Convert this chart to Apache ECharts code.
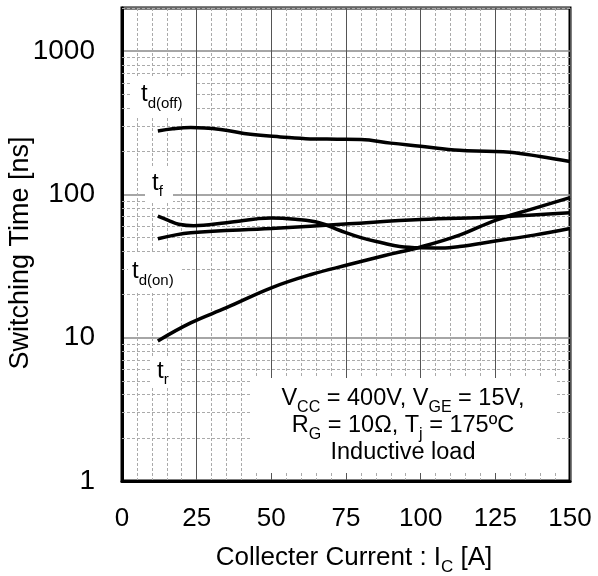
<!DOCTYPE html>
<html>
<head>
<meta charset="utf-8">
<script src="https://cdn.jsdelivr.net/npm/echarts@6/dist/echarts.min.js"></script>
<style>html,body{margin:0;padding:0;background:#fff}#c{width:598px;height:576px}</style>
</head>
<body>
<div id="c"></div>
<script>
// ---- data ----
const tdoffX = [12, 17, 23, 33, 43, 53, 63, 72, 80, 90, 100, 113, 122, 130, 140, 150];
const tdoffY = [277, 287, 293, 284, 263, 252, 244, 243, 242, 228, 217, 203, 200, 197, 184, 170];

const tfX = [12, 15.5, 19, 24, 35, 50, 58, 66, 73, 80, 87, 93, 100, 107, 113, 125, 138, 150];
const tfY = [70.5, 66, 62, 60.5, 63.5, 68.5, 67, 63.5, 56, 50, 46, 43.3, 42.4, 42.3, 43.3, 47.3, 52, 57.8];

const tdonX = [12, 23, 50, 76, 100, 125, 150];
const tdonY = [49, 54, 57.8, 62.4, 66.8, 69.6, 74.5];

const trX = [12, 23, 35, 50, 63, 76, 88, 100, 113, 125, 138, 150];
const trY = [9.5, 12.7, 16.2, 22.3, 27.5, 32.4, 37.5, 43, 52, 66, 80, 95];

const xMin = 0, xMax = 150, xInterval = 25, xMinorSplit = 5;
const yMin = 1, yMax = 2000;
const yMinorTicks = [2,3,4,5,6,7,8,9,20,30,40,50,60,70,80,90,200,300,400,500,600,700,800,900,2000];

const FAMILY = '"Liberation Sans", Arial, Helvetica, sans-serif';

function zip(xs, ys) { return xs.map((x, i) => [x, ys[i]]); }

// text measurement for subscript layout
const mctx = document.createElement('canvas').getContext('2d');
function measure(text, fs) { mctx.font = fs + 'px ' + FAMILY; return mctx.measureText(text).width; }

// parts: [[text, isSub], ...]; baseline-positioned text with lowered subscripts
function subText(x, baseline, parts, fsMain, fsSub, dy, align) {
  const widths = parts.map(p => measure(p[0], p[1] ? fsSub : fsMain));
  const total = widths.reduce((a, b) => a + b, 0);
  let cx = align === 'center' ? x - total / 2 : x;
  const els = [];
  parts.forEach((p, i) => {
    const fs = p[1] ? fsSub : fsMain;
    const bl = baseline + (p[1] ? dy : 0);
    els.push({
      type: 'text', z: 101, x: cx, y: bl - 0.3465 * fs, silent: true,
      style: {text: p[0], fontSize: fs, fontFamily: FAMILY, fill: '#000', align: 'left', verticalAlign: 'middle'}
    });
    cx += widths[i];
  });
  return els;
}

const chart = echarts.init(document.getElementById('c'), null, {renderer: 'canvas'});

const lineStyle = {color: '#000', width: 3.5};
function mkSeries(name, xs, ys, extra) {
  return Object.assign({
    name: name, type: 'line', data: zip(xs, ys), smooth: 0.4, showSymbol: false, symbol: 'none',
    lineStyle: lineStyle, silent: true, animation: false, z: 5
  }, extra || {});
}

const graphics = [
  // label backgrounds
  {type: 'rect', z: 100, silent: true, shape: {x: 132, y: 78, width: 63, height: 40}, style: {fill: '#fff'}},
  {type: 'rect', z: 100, silent: true, shape: {x: 145, y: 168, width: 28, height: 34}, style: {fill: '#fff'}},
  {type: 'rect', z: 100, silent: true, shape: {x: 128, y: 253, width: 54, height: 39}, style: {fill: '#fff'}},
  {type: 'rect', z: 100, silent: true, shape: {x: 150, y: 357, width: 30, height: 31}, style: {fill: '#fff'}},
  {type: 'rect', z: 100, silent: true, shape: {x: 250, y: 378, width: 307, height: 95}, style: {fill: '#fff'}},
  // y axis title
  {type: 'text', z: 101, x: 21, y: 253, rotation: Math.PI / 2, silent: true,
   style: {text: 'Switching Time [ns]', fontSize: 27, fontFamily: FAMILY, fill: '#000', align: 'center', verticalAlign: 'middle'}}
]
  .concat(subText(141, 103, [['t', false], ['d(off)', true]], 24, 15, 6, 'left'))
  .concat(subText(152, 192, [['t', false], ['f', true]], 24, 15, 5, 'left'))
  .concat(subText(132, 280, [['t', false], ['d(on)', true]], 24, 15, 6, 'left'))
  .concat(subText(157, 380, [['t', false], ['r', true]], 24, 15, 5, 'left'))
  .concat(subText(403, 406.7, [['V', false], ['CC', true], [' = 400V, V', false], ['GE', true], [' = 15V,', false]], 23.5, 16, 6.7, 'center'))
  .concat(subText(403, 433.5, [['R', false], ['G', true], [' = 10Ω, T', false], ['j', true], [' = 175ºC', false]], 23.5, 16, 6.7, 'center'))
  .concat(subText(403, 461, [['Inductive load', false]], 23.5, 16, 6.7, 'center'))
  .concat(subText(354, 567, [['Collecter Current : I', false], ['C', true], [' [A]', false]], 26, 17, 6, 'center'));

const option = {
  animation: false,
  backgroundColor: '#fff',
  grid: {left: 122, top: 8, right: 28, bottom: 95, outerBoundsMode: 'none', containLabel: false,
         show: true, borderColor: '#000', borderWidth: 3, backgroundColor: 'transparent'},
  xAxis: {
    type: 'value', min: xMin, max: xMax, interval: xInterval,
    axisLine: {show: true, lineStyle: {color: '#000', width: 3}},
    axisTick: {show: false},
    axisLabel: {fontSize: 26, fontFamily: FAMILY, color: '#000', margin: 25},
    splitLine: {show: true, lineStyle: {color: '#555', width: 1}},
    minorTick: {show: false, splitNumber: xMinorSplit},
    minorSplitLine: {show: true, lineStyle: {color: '#aaa', width: 1, type: [3, 2]}}
  },
  yAxis: {
    type: 'log', logBase: 10, min: yMin, max: yMax,
    axisLine: {show: true, lineStyle: {color: '#000', width: 3}},
    axisTick: {show: false},
    axisLabel: {fontSize: 28, fontFamily: FAMILY, color: '#000', margin: 27, showMaxLabel: false,
      formatter: v => String(Math.round(v))},
    splitLine: {show: true, lineStyle: {color: '#888', width: 1.5}}
  },
  series: [
    mkSeries('td(off)', tdoffX, tdoffY, {
      markLine: {
        silent: true, symbol: 'none', animation: false, z: 1,
        label: {show: false},
        lineStyle: {color: '#aaa', width: 1, type: [3, 2]},
        emphasis: {disabled: true},
        data: yMinorTicks.map(v => ({yAxis: v}))
      }
    }),
    mkSeries('tf', tfX, tfY),
    mkSeries('td(on)', tdonX, tdonY),
    mkSeries('tr', trX, trY)
  ],
  graphic: graphics
};
chart.setOption(option);
</script>
</body>
</html>
